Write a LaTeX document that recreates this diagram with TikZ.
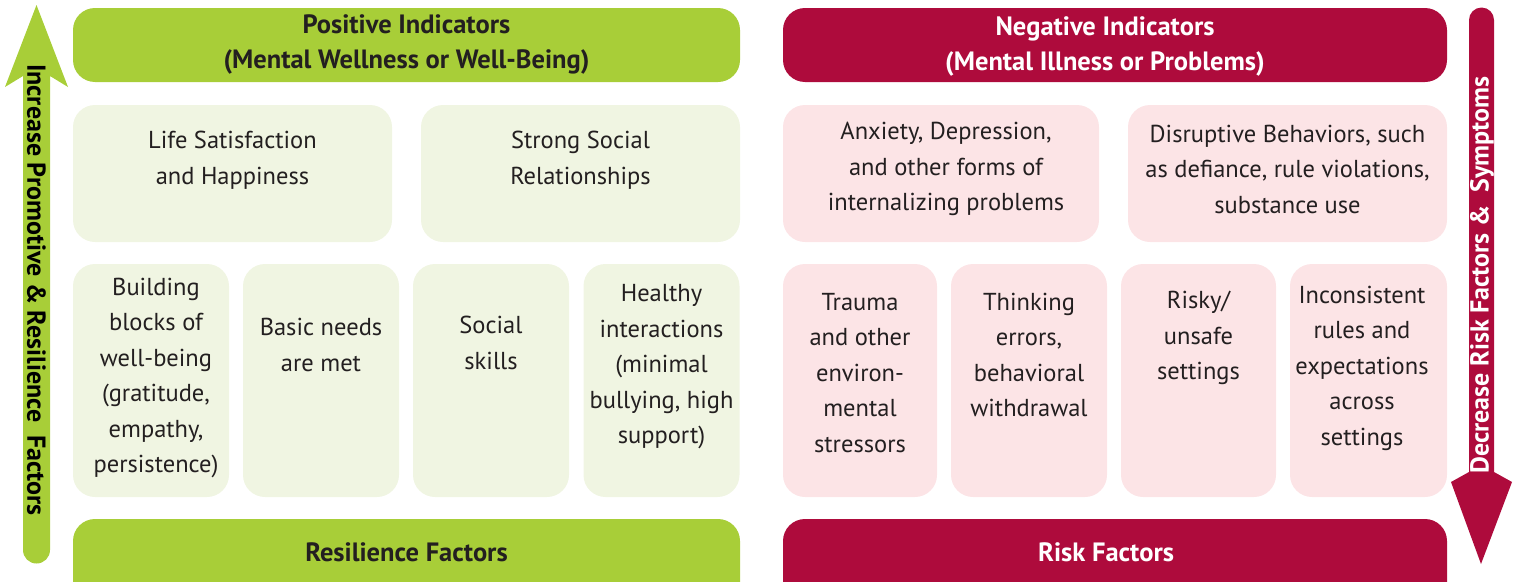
\documentclass[tikz,border=0pt]{standalone}
\usepackage{fontspec}
\setmainfont{PT Sans}
\definecolor{hgreen}{RGB}{168,206,56}
\definecolor{lgreen}{RGB}{240,245,226}
\definecolor{hred}{RGB}{174,11,60}
\definecolor{lpink}{RGB}{252,228,230}
\definecolor{ink}{RGB}{35,31,32}
\begin{document}
\begin{tikzpicture}[x=1pt,y=-1pt,
  box/.style={rectangle, rounded corners=22pt, inner sep=0pt, draw=none},
  head/.style={font=\fontsize{26.5}{35}\selectfont\bfseries, text=ink, align=center},
  headw/.style={font=\fontsize{26.5}{35}\selectfont\bfseries, text=white, align=center},
  body/.style={font=\fontsize{24.5}{35.5}\selectfont, text=ink, align=center},
  side/.style={font=\fontsize{26}{30}\selectfont\bfseries, align=center}]
\useasboundingbox (0,0) rectangle (1518,581);
\clip (0,0) rectangle (1518,581);
% headers
\node[box, fill=hgreen, minimum width=667pt, minimum height=74pt] (hg) at (406.5,45) {};
\node[box, fill=hred, minimum width=664pt, minimum height=74pt] (hr) at (1115,45) {};
\node[head] (hgt) at (406.5,44) {Positive Indicators\\(Mental Wellness or Well-Being)};
\node[headw] (hrt) at (1105,46) {Negative Indicators\\(Mental Illness or Problems)};
% row 1
\node[box, fill=lgreen, minimum width=319pt, minimum height=137pt] (g1) at (232.5,173.5) {};
\node[box, fill=lgreen, minimum width=319pt, minimum height=137pt] (g2) at (580.5,173.5) {};
\node[box, fill=lpink, minimum width=316pt, minimum height=137pt] (r1) at (941,173.5) {};
\node[box, fill=lpink, minimum width=319pt, minimum height=137pt] (r2) at (1287.5,173.5) {};
\node[body] (g1t) at (232.5,160) {Life Satisfaction\\and Happiness};
\node[body] (g2t) at (580.5,160) {Strong Social\\Relationships};
\node[body] (r1t) at (946,169) {Anxiety, Depression,\\and other forms of\\internalizing problems};
\node[body] (r2t) at (1287.5,169) {Disruptive Behaviors, such\\as defiance, rule violations,\\substance use};
% row 2
\foreach \n/\x in {a/151,b/321,c/491,d/661.5}
  \node[box, fill=lgreen, minimum width=156pt, minimum height=233pt] (g\n) at (\x,380.5) {};
\foreach \n/\x/\w in {a/860/154,b/1029/156,c/1198.5/155,d/1368.5/157}
  \node[box, fill=lpink, minimum width=\w pt, minimum height=233pt] (r\n) at (\x,380.5) {};
\node[body] (gat) at (156,378) {Building\\blocks of\\well-being\\(gratitude,\\empathy,\\persistence)};
\node[body] (gbt) at (321,345) {Basic needs\\are met};
\node[body] (gct) at (491,343) {Social\\skills};
\node[body] (gdt) at (661.5,367) {Healthy\\interactions\\(minimal\\bullying, high\\support)};
\node[body] (rat) at (860,373) {Trauma\\and other\\environ-\\mental\\stressors};
\node[body] (rbt) at (1029,355) {Thinking\\errors,\\behavioral\\withdrawal};
\node[body] (rct) at (1198.5,338) {Risky/\\unsafe\\settings};
\node[body] (rdt) at (1362,368) {Inconsistent\\rules and\\expectations\\across\\settings};
% bottom bars
\node[box, fill=hgreen, minimum width=667pt, minimum height=90pt] (bg) at (406.5,564) {};
\node[box, fill=hred, minimum width=664pt, minimum height=90pt] (br) at (1115,564) {};
\node[head] (bgt) at (406.5,552) {Resilience Factors};
\node[headw] (brt) at (1106,552) {Risk Factors};
% side arrows
\fill[hgreen] (36.5,5) -- (68,87) -- (50,76) -- (50,550) arc[start angle=0, end angle=180, x radius=13.5pt, y radius=-13.5pt] -- (23,76) -- (5,87) -- cycle;
\fill[hred] (1481,564) -- (1512,482) -- (1494,472) -- (1494,20) arc[start angle=0, end angle=180, x radius=12.5pt, y radius=12.5pt] -- (1469,472) -- (1451,482) -- cycle;
\node[side, text=black, rotate=-90] (lt) at (36.5,290) {Increase Promotive \& Resilience\ \ Factors};
\node[side, text=white, rotate=90] (rt) at (1482,275) {Decrease Risk Factors \&\ \ Symptoms};
\end{tikzpicture}
\end{document}
